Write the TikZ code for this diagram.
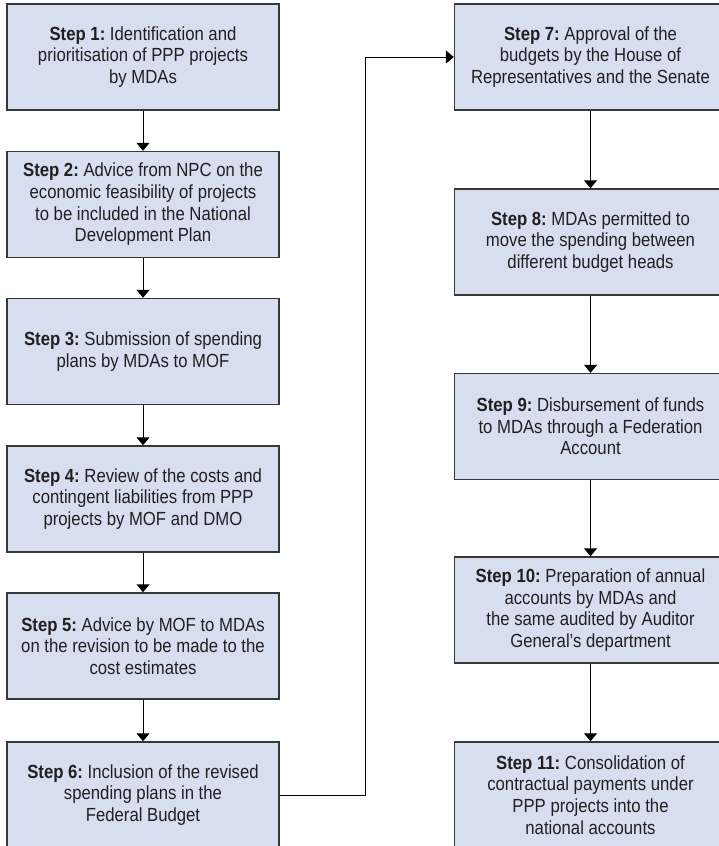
\documentclass[tikz,border=0pt]{standalone}
\usepackage{fontspec}
\setmainfont{Liberation Sans}[FakeStretch=0.88]
\usepackage{xcolor}
\usepackage{tikz}
\usetikzlibrary{arrows.meta}
\definecolor{boxfill}{RGB}{214,222,240}
\definecolor{boxline}{RGB}{55,55,55}
\definecolor{inkcol} {RGB}{35,31,32}
\frenchspacing

\begin{document}
\begin{tikzpicture}[
  x=1pt,y=-1pt,
  stepbox/.style={rectangle,draw=boxline,fill=boxfill,line width=1.4pt,
                  minimum width=272pt,minimum height=106pt,inner sep=0pt,
                  align=center,text=inkcol,
                  font=\fontsize{19}{21.7}\selectfont},
  flow/.style={draw=black,line width=1pt,-{Triangle[width=13pt,length=8pt]}},
]
\useasboundingbox (0,0) rectangle (719,846);
\def\xl{143}\def\xr{590.5}
\node[stepbox] (s1) at (\xl, 57)    {\textbf{Step 1:} Identification and\\prioritisation of PPP projects\\by MDAs};
\node[stepbox] (s2) at (\xl, 204.5) {\textbf{Step 2:} Advice from NPC on the\\economic feasibility of projects\\to be included in the National\\Development Plan};
\node[stepbox] (s3) at (\xl, 351.5) {\textbf{Step 3:} Submission of spending\\plans by MDAs to MOF};
\node[stepbox] (s4) at (\xl, 499)   {\textbf{Step 4:} Review of the costs and\\contingent liabilities from PPP\\projects by MOF and DMO};
\node[stepbox] (s5) at (\xl, 646)   {\textbf{Step 5:} Advice by MOF to MDAs\\on the revision to be made to the\\cost estimates};
\node[stepbox] (s6) at (\xl, 795)   {\textbf{Step 6:} Inclusion of the revised\\spending plans in the\\Federal Budget};
\node[stepbox] (s7)  at (\xr, 57)    {\textbf{Step 7:} Approval of the\\budgets by the House of\\Representatives and the Senate};
\node[stepbox] (s8)  at (\xr, 242)   {\textbf{Step 8:} MDAs permitted to\\move the spending between\\different budget heads};
\node[stepbox] (s9)  at (\xr, 426.5) {\textbf{Step 9:} Disbursement of funds\\to MDAs through a Federation\\Account};
\node[stepbox] (s10) at (\xr, 610)   {\textbf{Step 10:} Preparation of annual\\accounts by MDAs and\\the same audited by Auditor\\General’s department};
\node[stepbox] (s11) at (\xr, 795)   {\textbf{Step 11:} Consolidation of\\contractual payments under\\PPP projects into the\\national accounts};
\foreach \s/\d in {s1/s2,s2/s3,s3/s4,s4/s5,s5/s6,s7/s8,s8/s9,s9/s10,s10/s11}
  \draw[flow] (\s.south)--(\d.north);
\draw[flow] (s6.east) -- ++(86pt,0) |- (s7.west);
\end{tikzpicture}
\end{document}
